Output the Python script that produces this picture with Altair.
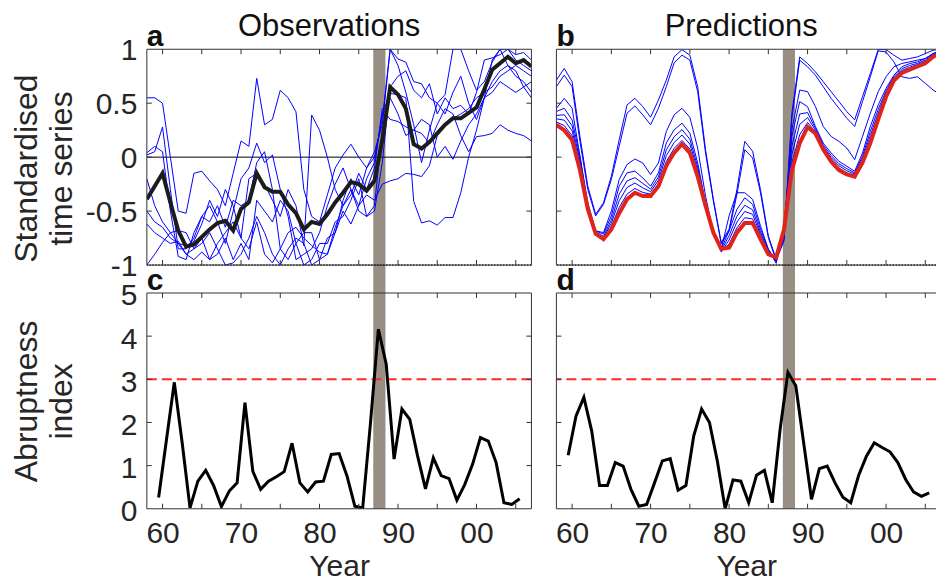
import json
import altair as alt
import pandas as pd

FONT = "Liberation Sans"
TXT = "#262626"
FRAME = "#333333"
BAND = "#988e84"
BLUE = "#0000ff"

# ---------------- data ----------------
years = list(range(1958, 2008))
ai_years = [1959.5 + k for k in range(47)]

obs_mean = [-0.39, -0.27, -0.15, -0.42, -0.68, -0.83, -0.81, -0.74, -0.67, -0.61,
            -0.59, -0.68, -0.48, -0.42, -0.15, -0.28, -0.32, -0.32, -0.44, -0.52,
            -0.67, -0.60, -0.62, -0.53, -0.42, -0.33, -0.23, -0.25, -0.31, -0.22,
            0.16, 0.65, 0.58, 0.45, 0.12, 0.08, 0.14, 0.22, 0.30, 0.36,
            0.36, 0.41, 0.46, 0.63, 0.81, 0.87, 0.93, 0.87, 0.90, 0.84]

obs_1 = [0.55, 0.55, 0.50, 0.00, -0.50, -0.52, -0.15, -0.13, -0.22, -0.30,
         -0.45, -0.15, 0.15, 0.10, 0.73, 0.30, 0.35, 0.62, 0.55, 0.42,
         -0.30, -0.55, -0.60, -0.35, -0.10, 0.02, 0.12, 0.00, -0.10, 0.00,
         0.35, 1.00, 0.91, 0.88, 0.70, 0.68, 0.55, 0.50, 0.58, 1.00,
         1.00, 0.80, 0.62, 0.70, 0.88, 1.00, 1.00, 0.95, 0.97, 0.90]
obs_2 = [0.02, 0.05, 0.28, -0.30, -0.85, -0.85, -0.75, -0.55, -0.45, -0.60,
         -0.80, -0.50, -0.20, -0.10, 0.13, -0.05, 0.02, -0.30, -0.55, -0.95,
         -0.90, -0.85, -0.70, -0.45, -0.25, -0.10, -0.30, -0.45, -0.20, -0.05,
         0.40, 0.59, 0.58, 0.55, -0.41, -0.61, -0.59, -0.63, -0.56, -0.56,
         -0.33, 0.00, 0.25, 0.55, 0.70, 0.80, 0.85, 0.75, 0.70, 0.60]
obs_3 = [-1.00, -0.90, -0.79, -0.70, -0.68, -0.70, -0.85, -0.80, -0.70, -0.85,
         -1.00, -0.98, -0.90, -0.75, -0.55, -0.70, -0.90, -1.00, -0.85, -0.75,
         -0.80, -1.00, -0.95, -0.90, -0.70, -0.50, -0.62, -0.45, -0.35, -0.40,
         -0.25, -0.22, -0.20, -0.15, -0.16, -0.18, -0.08, 0.20, 0.30, 0.36,
         0.40, 0.45, 0.55, 0.60, 0.65, 0.75, 0.80, 0.85, 0.80, 0.75]
obs_4 = [-0.50, -0.60, -0.65, -0.75, -0.80, -0.82, -0.78, -0.62, -0.40, -0.55,
         -0.30, -0.45, -0.75, -0.20, -0.15, -0.25, -0.40, -0.55, -0.30, -0.45,
         -0.82, 0.39, 0.25, 0.00, -0.30, -0.45, -0.35, -0.15, -0.30, -0.10,
         0.45, 0.35, 0.33, 0.28, 0.25, 0.22, 0.13, 0.30, 0.45, 0.40,
         0.20, 0.05, 0.19, 0.20, 0.22, 0.30, 0.25, 0.22, 0.20, 0.15]
obs_5 = [0.04, 0.10, 0.05, -0.50, -0.92, -0.95, -0.70, -0.55, -0.60, -0.45,
         -0.65, -0.40, -0.45, -0.40, -0.05, 0.05, -0.30, -0.85, -0.95, -0.80,
         -0.70, -0.70, -0.95, -0.75, -0.70, -0.40, -0.20, -0.35, -0.10, 0.05,
         0.30, 1.00, 0.85, 0.60, 0.30, -0.05, 0.25, 0.50, 0.40, 0.60,
         0.75, 0.50, 0.35, 0.55, 0.90, 1.00, 0.85, 0.80, 0.65, 0.55]
obs_6 = [-0.62, -0.70, -0.75, -0.80, -0.78, -0.90, -0.95, -0.88, -0.95, -0.80,
         -0.70, -0.60, -0.75, -0.85, -0.60, -0.90, -0.98, -0.85, -0.70, -0.65,
         -0.75, -0.82, -0.88, -0.90, -0.65, -0.45, -0.30, -0.50, -0.55, -0.50,
         -0.05, 0.65, 0.75, 0.80, 0.62, 0.55, 0.68, 0.40, 0.55, 0.45,
         0.48, 0.40, 0.60, 0.90, 0.92, 0.95, 1.00, 0.90, 0.85, 0.80]
obs_7 = [-0.20, -0.45, -0.60, -0.70, -0.80, -0.90, -0.85, -0.75, -0.95, -0.90,
         -0.75, -0.95, -0.80, -0.95, -0.40, -0.50, -0.60, -0.40, -0.50, -0.80,
         -1.00, -0.95, -0.80, -0.80, -0.60, -0.55, -0.40, -0.20, -0.55, -0.45,
         0.25, 0.55, 0.40, 0.20, 0.25, 0.35, 0.30, 0.00, 0.10, -0.02,
         0.15, 0.30, 0.40, 0.55, 0.60, 0.70, 0.65, 0.60, 0.65, 0.70]

pred_red = [0.30, 0.25, 0.16, -0.12, -0.48, -0.71, -0.76, -0.67, -0.52, -0.39,
            -0.33, -0.36, -0.36, -0.27, -0.08, 0.04, 0.12, 0.04, -0.18, -0.45,
            -0.70, -0.85, -0.84, -0.70, -0.61, -0.61, -0.76, -0.90, -0.93, -0.67,
            -0.12, 0.13, 0.28, 0.22, 0.07, -0.04, -0.12, -0.16, -0.18, -0.05,
            0.13, 0.35, 0.56, 0.71, 0.78, 0.81, 0.84, 0.87, 0.93, 0.97]
pred_1 = [0.325, 0.293, 0.198, -0.090, -0.478, -0.708, -0.775, -0.643, -0.466, -0.343,
          -0.290, -0.327, -0.343, -0.244, -0.041, 0.081, 0.155, 0.075, -0.152, -0.447,
          -0.696, -0.870, -0.806, -0.656, -0.561, -0.573, -0.742, -0.890, -0.940, -0.662,
          -0.054, 0.208, 0.321, 0.235, 0.081, -0.023, -0.100, -0.146, -0.168, -0.036,
          0.162, 0.374, 0.576, 0.723, 0.788, 0.818, 0.846, 0.877, 0.935, 0.978]
pred_2 = [0.355, 0.343, 0.244, -0.060, -0.470, -0.700, -0.750, -0.613, -0.404, -0.281,
          -0.240, -0.285, -0.320, -0.214, 0.013, 0.135, 0.205, 0.121, -0.122, -0.439,
          -0.692, -0.880, -0.768, -0.602, -0.503, -0.531, -0.719, -0.878, -0.955, -0.654,
          0.023, 0.304, 0.367, 0.250, 0.096, -0.003, -0.080, -0.126, -0.156, -0.013,
          0.200, 0.408, 0.596, 0.735, 0.803, 0.833, 0.858, 0.889, 0.943, 0.982]
pred_3 = [0.386, 0.393, 0.290, -0.029, -0.462, -0.692, -0.735, -0.582, -0.343, -0.220,
          -0.190, -0.243, -0.297, -0.183, 0.067, 0.189, 0.255, 0.167, -0.091, -0.431,
          -0.688, -0.865, -0.729, -0.548, -0.446, -0.489, -0.696, -0.867, -0.970, -0.646,
          0.100, 0.400, 0.413, 0.266, 0.112, 0.016, -0.061, -0.107, -0.145, 0.010,
          0.239, 0.443, 0.615, 0.746, 0.819, 0.849, 0.869, 0.900, 0.951, 0.986]
pred_4 = [0.423, 0.453, 0.345, 0.008, -0.453, -0.683, -0.714, -0.545, -0.269, -0.146,
          -0.130, -0.192, -0.269, -0.146, 0.131, 0.253, 0.315, 0.222, -0.054, -0.422,
          -0.684, -0.853, -0.683, -0.484, -0.377, -0.438, -0.668, -0.853, -0.985, -0.637,
          0.192, 0.515, 0.468, 0.284, 0.130, 0.039, -0.038, -0.084, -0.131, 0.038,
          0.285, 0.484, 0.638, 0.760, 0.837, 0.867, 0.883, 0.914, 0.960, 0.990]
pred_mid = [0.453, 0.545, 0.453, 0.008, -0.422, -0.684, -0.699, -0.499, -0.207, -0.069,
            -0.017, -0.054, -0.161, -0.054, 0.238, 0.392, 0.453, 0.370, 0.084, -0.361,
            -0.699, -0.853, -0.545, -0.330, -0.330, -0.392, -0.637, -0.853, -0.960, -0.730,
            0.253, 0.622, 0.607, 0.469, 0.284, 0.192, 0.146, 0.084, -0.023, 0.192,
            0.407, 0.607, 0.745, 0.837, 0.868, 0.883, 0.899, 0.914, 0.960, 0.991]
pred_top1 = [0.714, 0.822, 0.699, 0.192, -0.269, -0.530, -0.422, -0.177, 0.161, 0.484,
             0.545, 0.469, 0.370, 0.530, 0.714, 0.929, 0.997, 0.945, 0.653, 0.069,
             -0.392, -0.791, -0.668, -0.300, 0.146, 0.054, -0.300, -0.730, -0.945, -0.760,
             0.407, 0.929, 0.868, 0.791, 0.699, 0.607, 0.515, 0.422, 0.346, 0.561,
             0.776, 0.997, 0.997, 0.945, 0.899, 0.914, 0.929, 0.960, 0.991, 1.000]
pred_top2 = [0.653, 0.760, 0.653, 0.146, -0.300, -0.545, -0.438, -0.207, 0.100, 0.407,
             0.475, 0.392, 0.300, 0.453, 0.653, 0.874, 0.945, 0.899, 0.607, 0.038,
             -0.407, -0.806, -0.684, -0.346, 0.069, -0.008, -0.330, -0.745, -0.960, -0.776,
             0.361, 0.899, 0.837, 0.760, 0.653, 0.545, 0.453, 0.361, 0.284, 0.515,
             0.745, 0.985, 0.975, 0.883, 0.745, 0.730, 0.745, 0.684, 0.622, 0.576]

abrupt_obs = [0.26, 1.60, 2.93, 1.53, 0.02, 0.64, 0.89, 0.54, 0.05, 0.41,
              0.60, 2.46, 0.87, 0.45, 0.64, 0.74, 0.86, 1.52, 0.60, 0.39,
              0.62, 0.64, 1.26, 1.28, 0.76, 0.06, 0.02, 2.00, 4.16, 3.35,
              1.15, 2.31, 2.07, 1.22, 0.46, 1.18, 0.77, 0.70, 0.20, 0.56,
              1.03, 1.65, 1.57, 1.07, 0.14, 0.10, 0.23]
abrupt_pred = [1.24, 2.15, 2.58, 1.80, 0.54, 0.54, 1.07, 0.99, 0.45, 0.06,
               0.10, 0.60, 1.11, 1.16, 0.43, 0.54, 1.69, 2.31, 2.00, 1.11,
               0.00, 0.67, 0.64, 0.14, 0.78, 0.89, 0.14, 1.84, 3.16, 2.85,
               1.53, 0.22, 0.93, 0.99, 0.60, 0.27, 0.14, 0.77, 1.22, 1.53,
               1.42, 1.32, 1.07, 0.68, 0.39, 0.29, 0.37]

threshold = [3.0]
band_years = [1986.85, 1988.4]

year_ticks = [1960, 1965, 1970, 1975, 1980, 1985, 1990, 1995, 2000, 2005]
year_label_values = [1960, 1970, 1980, 1990, 2000]
year_labels = ["60", "70", "80", "90", "00"]
ts_label_values = [-1, -0.5, 0, 0.5, 1]
ts_labels = ["-1", "-0.5", "0", "0.5", "1"]
ts_ticks = [-0.5, 0, 0.5]
ai_label_values = [0, 1, 2, 3, 4, 5]
ai_labels = ["0", "1", "2", "3", "4", "5"]
ai_ticks = [1, 2, 3, 4]

# ---------------- layout ----------------
W_L, W_R, H, GAP, COLGAP = 385, 380, 216, 28, 25
DOM_L = [1958, 2007]
DOM_R = [1958, 1958 + W_R * (2007 - 1958) / W_L]


def lab_expr(values, labels):
    return f"{json.dumps(labels)}[indexof({json.dumps(values)}, datum.value)]"


def long_df(series, xs):
    rows = []
    for name, vals in series.items():
        for x, v in zip(xs, vals):
            rows.append({"year": x, "value": v, "series": name})
    return pd.DataFrame(rows)


def single(xs, vals):
    return pd.DataFrame({"year": xs, "value": vals})


year_axis = alt.Axis(
    values=year_label_values, labelExpr=lab_expr(year_label_values, year_labels),
    ticks=False, tickSize=0, domain=False, grid=False,
    labelFont=FONT, labelFontSize=30, labelColor=TXT, labelPadding=10,
    labelFlush=False, labelOverlap=False,
    title="Year", titleFont=FONT, titleFontSize=30, titleFontWeight="normal",
    titleColor=TXT, titleY=67, titleBaseline="alphabetic")


def y_axis(values, labels, title, title_y, label_offset):
    return alt.Axis(
        values=values, labelExpr=lab_expr(values, labels),
        ticks=False, tickSize=0, domain=False, grid=False,
        labelFont=FONT, labelFontSize=30, labelColor=TXT, labelPadding=10,
        labelOffset=label_offset, labelFlush=False, labelOverlap=False,
        title=title, titleFont=FONT, titleFontSize=32, titleFontWeight="normal",
        titleColor=TXT, titleX=-110, titleY=title_y, titleAngle=270,
        titleAlign="center", titleBaseline="alphabetic", titleLineHeight=35)


def one():
    return alt.Data(values=[{"k": 0}])


def panel(letter, W, X, Y, content, ytick_vals, band_bottom, right_side,
          title=None, title_dx=0):
    layers = []
    band_df = pd.DataFrame({"year": [band_years[0]], "year_end": [band_years[1]]})
    layers.append(alt.Chart(band_df).mark_rect(color=BAND).encode(
        x=X, x2="year_end:Q", y=alt.value(0), y2=alt.value(band_bottom)))
    layers += content
    xt = pd.DataFrame({"year": year_ticks})
    layers.append(alt.Chart(xt).mark_rule(color=FRAME, strokeWidth=1).encode(
        x=X, y=alt.value(H), y2=alt.value(H - 5)))
    layers.append(alt.Chart(xt).mark_rule(color=FRAME, strokeWidth=1).encode(
        x=X, y=alt.value(0), y2=alt.value(5)))
    yt = pd.DataFrame({"value": ytick_vals})
    layers.append(alt.Chart(yt).mark_rule(color=FRAME, strokeWidth=1).encode(
        y=Y, x=alt.value(0), x2=alt.value(5)))
    if right_side:
        layers.append(alt.Chart(yt).mark_rule(color=FRAME, strokeWidth=1).encode(
            y=Y, x=alt.value(W - 5), x2=alt.value(W)))
    # frame
    layers.append(alt.Chart(one()).mark_rule(color=FRAME, strokeWidth=1).encode(
        x=alt.value(0), x2=alt.value(W), y=alt.value(0)))
    layers.append(alt.Chart(one()).mark_rule(color=FRAME, strokeWidth=1).encode(
        x=alt.value(0), x2=alt.value(W), y=alt.value(H)))
    layers.append(alt.Chart(one()).mark_rule(color=FRAME, strokeWidth=1).encode(
        x=alt.value(0), y=alt.value(0), y2=alt.value(H)))
    if right_side:
        layers.append(alt.Chart(one()).mark_rule(color=FRAME, strokeWidth=1).encode(
            x=alt.value(W), y=alt.value(0), y2=alt.value(H)))
    layers.append(alt.Chart(one()).mark_text(
        text=letter, font=FONT, fontSize=30, fontWeight="bold", color="#111111",
        align="left", baseline="alphabetic").encode(x=alt.value(0), y=alt.value(-3)))
    if title:
        layers.append(alt.Chart(one()).mark_text(
            text=title, font=FONT, fontSize=31, fontWeight="normal", color="#111111",
            align="center", baseline="alphabetic").encode(
                x=alt.value(W / 2 + title_dx), y=alt.value(-13)))
    return alt.layer(*layers).properties(width=W, height=H)


ts_scale = alt.Scale(domain=[-1, 1], nice=False, zero=False)
ai_scale = alt.Scale(domain=[0, 5], nice=False, zero=False)

# ---- panel a ----
Xa = alt.X("year:Q", scale=alt.Scale(domain=DOM_L, nice=False, zero=False), axis=None)
Ya = alt.Y("value:Q", scale=ts_scale,
           axis=y_axis(ts_label_values, ts_labels, ["Standardised", "time series"], 119, 1))
obs_df = long_df({"o1": obs_1, "o2": obs_2, "o3": obs_3, "o4": obs_4,
                  "o5": obs_5, "o6": obs_6, "o7": obs_7}, years)
content_a = [
    alt.Chart(pd.DataFrame({"value": [0]})).mark_rule(color="#000000", strokeWidth=1).encode(y=Ya),
    alt.Chart(pd.DataFrame({"value": [-1]})).mark_rule(color="#000000", strokeWidth=1.2,
                                                      strokeDash=[1.5, 1.5]).encode(y=Ya),
    alt.Chart(obs_df).mark_line(color=BLUE, strokeWidth=1, clip=True).encode(
        x=Xa, y=Ya, detail="series:N"),
    alt.Chart(single(years, obs_mean)).mark_line(color="#1c1c1c", strokeWidth=4, clip=True).encode(
        x=Xa, y=Ya),
]
pa = panel("a", W_L, Xa, Ya, content_a, ts_ticks, H + GAP, True, "Observations", -10)

# ---- panel b ----
Xb = alt.X("year:Q", scale=alt.Scale(domain=DOM_R, nice=False, zero=False), axis=None)
Yb = alt.Y("value:Q", scale=ts_scale, axis=None)
pred_df = long_df({"p1": pred_1, "p2": pred_2, "p3": pred_3, "p4": pred_4,
                   "pm": pred_mid, "t1": pred_top1, "t2": pred_top2}, years)
content_b = [
    alt.Chart(pd.DataFrame({"value": [-1]})).mark_rule(color="#000000", strokeWidth=1.2,
                                                      strokeDash=[1.5, 1.5]).encode(y=Yb),
    alt.Chart(pred_df).mark_line(color=BLUE, strokeWidth=1, clip=True).encode(
        x=Xb, y=Yb, detail="series:N"),
    alt.Chart(single(years, pred_red)).mark_line(color="#e2231a", strokeWidth=4, clip=True).encode(
        x=Xb, y=Yb),
]
pb = panel("b", W_R, Xb, Yb, content_b, ts_ticks, H + GAP, False, "Predictions", -5)

# ---- panel c ----
Xc = alt.X("year:Q", scale=alt.Scale(domain=DOM_L, nice=False, zero=False), axis=year_axis)
Yc = alt.Y("value:Q", scale=ai_scale,
           axis=y_axis(ai_label_values, ai_labels, ["Abruptness", "index"], H / 2, 3))
content_c = [
    alt.Chart(pd.DataFrame({"value": threshold})).mark_rule(
        color="#ff2a2a", strokeWidth=2, strokeDash=[10, 5]).encode(y=Yc),
    alt.Chart(single(ai_years, abrupt_obs)).mark_line(color="#000000", strokeWidth=3, clip=True).encode(
        x=Xc, y=Yc),
]
pc = panel("c", W_L, Xc, Yc, content_c, ai_ticks, H, True)

# ---- panel d ----
Xd = alt.X("year:Q", scale=alt.Scale(domain=DOM_R, nice=False, zero=False), axis=year_axis)
Yd = alt.Y("value:Q", scale=ai_scale, axis=None)
content_d = [
    alt.Chart(pd.DataFrame({"value": threshold})).mark_rule(
        color="#ff2a2a", strokeWidth=2, strokeDash=[10, 5]).encode(y=Yd),
    alt.Chart(single(ai_years, abrupt_pred)).mark_line(color="#000000", strokeWidth=3, clip=True).encode(
        x=Xd, y=Yd),
]
pd_ = panel("d", W_R, Xd, Yd, content_d, ai_ticks, H, False)

chart = alt.concat(
    pa, pb, pc, pd_, columns=2,
    spacing=alt.RowColnumber(row=GAP, column=COLGAP), bounds="flush"
).properties(
    padding={"left": 11, "top": 11, "right": 0, "bottom": 0},
    background="white",
).configure_view(stroke=None)

chart.save("out.html", embed_options={"renderer": "svg", "actions": False})
